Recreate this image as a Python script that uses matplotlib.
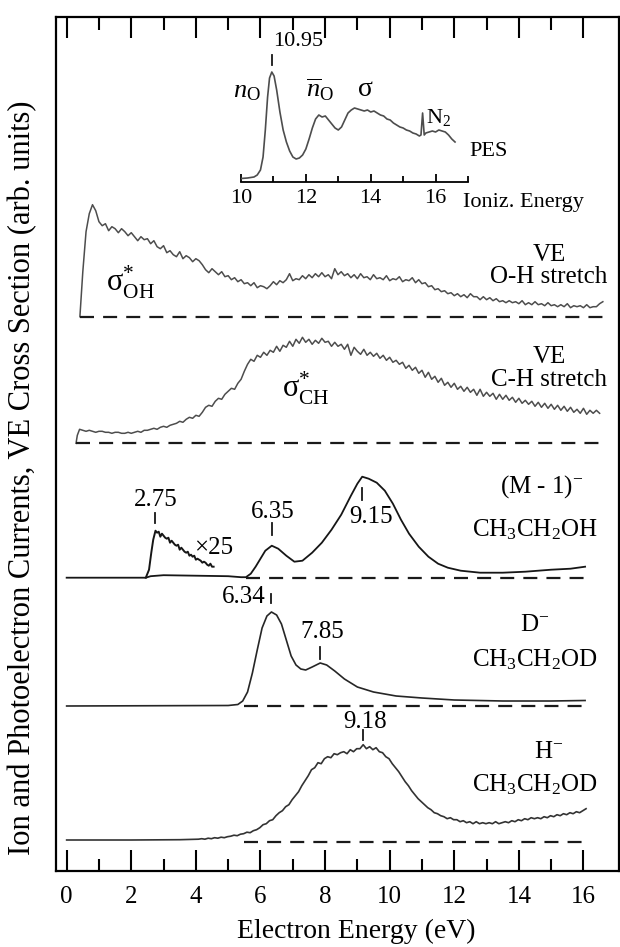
import matplotlib.pyplot as plt
import numpy as np

plt.rcParams['font.family'] = ['Liberation Serif', 'DejaVu Serif']
plt.rcParams['mathtext.fontset'] = 'custom'
plt.rcParams['mathtext.rm'] = 'Liberation Serif'
plt.rcParams['mathtext.it'] = 'Liberation Serif:italic'
plt.rcParams['mathtext.bf'] = 'Liberation Serif:bold'

# ---------------- data (arb. units, height above each trace's zero line) ----------------

# VE cross section, O-H stretch
oh_rise_e = [0.41, 0.45, 0.5, 0.6, 0.7, 0.8]
oh_rise_v = [0, 20, 45, 85, 103, 112]
oh_v = [106, 95, 91, 93, 86, 90, 88, 84, 88, 85,
        81, 84, 80, 76, 80, 77, 78, 73, 76, 70,
        68, 71, 64, 66, 62, 60, 65, 58, 61, 59,
        55, 58, 56, 52, 47, 44, 48, 45, 42, 45,
        40, 41, 37, 39, 35, 37, 33, 34, 31, 34,
        29, 31, 30, 28, 31, 35, 32, 36, 34, 37,
        43, 36, 38, 37, 41, 38, 42, 39, 43, 40,
        44, 40, 42, 38, 48, 42, 45, 41, 43, 39,
        42, 38, 43, 39, 40, 37, 42, 38, 39, 37,
        41, 36, 38, 37, 40, 35, 37, 36, 39, 34,
        37, 33, 34, 30, 31, 27, 28, 25, 26, 23,
        24, 21, 23, 20, 22, 19, 23, 20, 20, 17,
        20, 17, 19, 16, 18, 15, 16, 14, 16, 14,
        15, 13, 16, 12, 14, 12, 15, 12, 13, 11,
        14, 11, 12, 10, 12, 10, 13, 9, 11, 10,
        11, 9, 12, 9, 10, 10, 13, 15]
oh_e = np.linspace(0.9, 16.6, len(oh_v))

# VE cross section, C-H stretch
ch_rise_e = [0.29, 0.33]
ch_rise_v = [0, 8]
ch_v = [14, 13, 12, 13, 12, 11, 12, 12, 11, 11,
        10, 11, 11, 10, 10, 11, 10, 11, 12, 11,
        13, 13, 14, 15, 14, 16, 17, 16, 18, 19,
        20, 22, 21, 24, 26, 25, 28, 27, 31, 36,
        38, 37, 42, 45, 44, 49, 52, 55, 54, 60,
        64, 72, 79, 84, 82, 88, 86, 91, 88, 93,
        91, 97, 92, 98, 96, 102, 97, 104, 100, 106,
        101, 104, 99, 103, 100, 105, 101, 102, 97, 101,
        97, 99, 94, 99, 88, 96, 92, 89, 94, 88,
        91, 87, 90, 85, 88, 83, 86, 81, 83, 79,
        81, 75, 78, 73, 76, 70, 73, 66, 71, 64,
        67, 61, 65, 58, 61, 56, 60, 54, 57, 52,
        56, 51, 54, 48, 54, 47, 51, 47, 50, 44,
        49, 44, 48, 43, 46, 41, 45, 40, 43, 39,
        42, 37, 41, 36, 40, 35, 39, 34, 38, 33,
        37, 32, 36, 31, 34, 30, 35, 29, 33, 30,
        33, 30]
ch_e = np.linspace(0.4, 16.5, len(ch_v))

# (M-1)- from CH3CH2OH
m1_e = [0.0, 2.45, 2.6, 3.0, 4.0, 5.0, 5.4, 5.55, 5.7, 5.85, 6.0, 6.15, 6.35, 6.55,
        6.8, 7.05, 7.3, 7.6, 7.9, 8.2, 8.5, 8.8, 9.0, 9.15, 9.35, 9.6, 9.85, 10.1,
        10.35, 10.6, 10.9, 11.2, 11.5, 11.8, 12.2, 12.8, 13.5, 14.2, 15.0, 15.6, 16.05]
m1_v = [0, 0, 1.5, 2.5, 2, 1.5, 0.5, 0.5, 4, 11, 19, 27, 32, 29,
        22, 16, 17, 25, 35, 48, 63, 82, 94, 101, 99, 95, 87, 74,
        58, 44, 31, 21, 14, 10, 7, 5, 5, 6, 8, 9, 11]
# x25 magnified low-energy part
x25_rise_e = [2.45, 2.55, 2.62, 2.68]
x25_rise_v = [0, 8, 25, 38]
x25_v = [47, 45, 46, 41, 44, 42, 40, 39, 40, 35,
         37, 35, 33, 32, 33, 28, 30, 28, 26, 25,
         26, 22, 23, 21, 22, 18, 19, 18, 17, 15,
         16, 15, 13, 12, 14, 11, 11]
x25_e = np.linspace(2.75, 4.55, len(x25_v))

# D- from CH3CH2OD
d_e = [0.0, 5.0, 5.3, 5.45, 5.6, 5.75, 5.9, 6.05, 6.2, 6.34, 6.5, 6.65, 6.8, 6.95,
       7.1, 7.25, 7.4, 7.6, 7.85, 8.05, 8.3, 8.6, 9.0, 9.5, 10.2, 11.0, 12.0, 13.5,
       15.0, 16.05]
d_v = [0, 0.5, 1.5, 5, 14, 33, 56, 78, 90, 94, 91, 82, 66, 50,
       41, 37, 36, 39, 43, 41, 35, 27, 19, 14, 10, 8, 6, 5,
       5, 5.5]

# H- from CH3CH2OD
h_low_e = [0.0, 2.0, 3.5]
h_low_v = [1.7, 1.7, 2.0]
h_v = [2.5, 3, 2.5, 3.5, 3, 4, 3.5, 4.5, 4, 5,
       5.5, 6.5, 6, 7.5, 8, 9.5, 9, 11, 12, 14,
       17, 18, 21, 22, 26, 29, 31, 35, 37, 42,
       46, 50, 56, 61, 66, 72, 74, 79, 78, 83,
       85, 84, 88, 87, 89, 90, 88, 92, 90, 93,
       93, 97, 93, 95, 92, 94, 90, 89, 85, 83,
       78, 74, 70, 65, 60, 56, 51, 47, 43, 40,
       37, 34, 32, 29, 28, 26, 25, 23, 24, 22,
       22, 20, 21, 19, 20, 18, 20, 18, 19, 18,
       19, 18, 20, 18, 19, 20, 19, 21, 20, 22,
       21, 23, 22, 24, 23, 24, 23, 25, 24, 26,
       25, 27, 26, 28, 27, 29, 28, 30, 29, 31,
       33]
h_e = np.linspace(4.08, 16.08, len(h_v))

# photoelectron spectrum (inset), ionization energy in eV
pes_e = [10.0, 10.2, 10.4, 10.5, 10.6, 10.68, 10.75, 10.82, 10.88, 10.95,
         11.02, 11.1, 11.2, 11.3, 11.4, 11.5, 11.6, 11.7, 11.8, 11.9,
         12.0, 12.1, 12.2, 12.3, 12.4, 12.5, 12.6, 12.7, 12.8, 12.9,
         13.0, 13.1, 13.2, 13.3, 13.4, 13.5, 13.6, 13.7, 13.8, 13.9,
         14.0, 14.1, 14.2, 14.3, 14.4, 14.5, 14.6, 14.7, 14.8, 14.9,
         15.0, 15.1, 15.2, 15.3, 15.4, 15.5, 15.55, 15.6, 15.65, 15.7, 15.8, 15.9,
         16.0, 16.1, 16.2, 16.3, 16.4, 16.5, 16.6]
pes_v = [3.5, 4, 5, 7, 12, 25, 52, 85, 104, 110,
         106, 92, 70, 52, 40, 31, 25, 23, 24, 27,
         33, 43, 54, 63, 67, 65, 66, 62, 58, 54,
         52, 55, 62, 69, 72, 74, 73, 72, 71, 72,
         70, 71, 69, 67, 66, 63, 62, 59, 57, 55,
         54, 52, 51, 49, 48, 46, 47, 69, 47, 49, 50, 51,
         50, 52, 51, 50, 47, 43, 40]

# ---------------- figure ----------------
W, H = 620, 947
fig = plt.figure(figsize=(W / 100, H / 100), dpi=100)
ax = fig.add_axes([56 / W, 1 - 871 / H, 563 / W, 854 / H])
ax.set_xlim(-0.33, 17.1)
ax.set_ylim(0, 854)

# vertical offsets of the stacked curves
base_oh, base_ch, base_m1, base_d, base_h = 554.3, 427.7, 293.3, 165.0, 29.3

grey = '#4d4d4d'
dark = '#161616'


def zero_line(x0, x1, base):
    ax.plot([x0, x1], [base, base], color='#1a1a1a', lw=1.6,
            dashes=(6.3, 4.1), solid_capstyle='butt', dash_capstyle='butt')


def peak_tick(x, y0, y1):
    ax.plot([x, x], [y0, y1], color=dark, lw=1.3)


# O-H stretch
ax.plot(np.concatenate([oh_rise_e, oh_e]),
        np.concatenate([oh_rise_v, oh_v]) + base_oh, color=grey, lw=1.1)
zero_line(0.41, 16.6, base_oh)

# C-H stretch
ax.plot(np.concatenate([ch_rise_e, ch_e]),
        np.concatenate([ch_rise_v, ch_v]) + base_ch, color=grey, lw=1.1)
zero_line(0.29, 16.5, base_ch)

# (M-1)-
ax.plot(m1_e, np.array(m1_v) + base_m1, color=dark, lw=1.3)
ax.plot(np.concatenate([x25_rise_e, x25_e]),
        np.concatenate([x25_rise_v, x25_v]) + base_m1, color=dark, lw=1.4)
zero_line(5.55, 16.05, base_m1)

# D-
ax.plot(d_e, np.array(d_v) + base_d, color='#262626', lw=1.2)
zero_line(5.5, 16.05, base_d)

# H-
ax.plot(np.concatenate([h_low_e, h_e]),
        np.concatenate([h_low_v, h_v]) + base_h, color='#333333', lw=1.2)
zero_line(5.5, 16.05, base_h)

# labels
fs = 18
ax.text(1.99, 589, r'$\mathrm{\sigma}^{*}_{\mathrm{OH}}$', fontsize=22, ha='center', va='center')
ax.text(14.93, 616, 'VE', fontsize=fs, ha='center', va='center')
ax.text(14.93, 594, 'O-H stretch', fontsize=fs, ha='center', va='center')
ax.text(7.41, 483, r'$\mathrm{\sigma}^{*}_{\mathrm{CH}}$', fontsize=22, ha='center', va='center')
ax.text(14.93, 514, 'VE', fontsize=fs, ha='center', va='center')
ax.text(14.93, 491, 'C-H stretch', fontsize=fs, ha='center', va='center')

ax.text(2.76, 371, '2.75', fontsize=fs, ha='center', va='center')
peak_tick(2.75, 348, 358)
ax.text(4.55, 323, '×25', fontsize=fs, ha='center', va='center')
ax.text(6.37, 359, '6.35', fontsize=fs, ha='center', va='center')
peak_tick(6.35, 336, 348)
ax.text(9.41, 354, '9.15', fontsize=fs, ha='center', va='center')
peak_tick(9.15, 371, 383)
ax.text(14.72, 384, r'(M - 1)$^{-}$', fontsize=fs, ha='center', va='center')
ax.text(14.5, 341, r'CH$_3$CH$_2$OH', fontsize=fs, ha='center', va='center')

ax.text(5.49, 274, '6.34', fontsize=fs, ha='center', va='center')
peak_tick(6.34, 268, 277)
ax.text(7.92, 239, '7.85', fontsize=fs, ha='center', va='center')
peak_tick(7.85, 212, 224)
ax.text(14.5, 246, r'D$^{-}$', fontsize=fs, ha='center', va='center')
ax.text(14.5, 211, r'CH$_3$CH$_2$OD', fontsize=fs, ha='center', va='center')

ax.text(9.24, 149, '9.18', fontsize=fs, ha='center', va='center')
peak_tick(9.18, 131, 141)
ax.text(14.93, 119, r'H$^{-}$', fontsize=fs, ha='center', va='center')
ax.text(14.5, 86, r'CH$_3$CH$_2$OD', fontsize=fs, ha='center', va='center')

# axes styling
for s in ax.spines.values():
    s.set_linewidth(1.6)
ax.set_xticks(np.arange(0, 17, 2))
ax.set_xticks(np.arange(1, 17, 2), minor=True)
ax.set_yticks([])
ax.tick_params(axis='x', which='both', direction='in', top=True, bottom=True,
               width=1.5, labelsize=18, pad=11)
ax.tick_params(axis='x', which='major', length=15)
ax.tick_params(axis='x', which='minor', length=9)
ax.set_xlabel('Electron Energy (eV)', fontsize=20)
ax.xaxis.set_label_coords(0.533, -0.056)
ax.set_ylabel('Ion and Photoelectron Currents, VE Cross Section (arb. units)', fontsize=22)
ax.yaxis.set_label_coords(-0.034, 0.461)

# ---------------- inset: photoelectron spectrum ----------------
ai = fig.add_axes([241 / W, 1 - 182 / H, 227 / W, 142 / H])
ai.set_facecolor('none')
ai.set_xlim(10, 17)
ai.set_ylim(0, 142)
for k in ('left', 'right', 'top'):
    ai.spines[k].set_visible(False)
ai.spines['bottom'].set_linewidth(1.3)
ai.set_yticks([])
ai.set_xticks([10, 12, 14, 16])
ai.set_xticks([11, 13, 15, 17], minor=True)
ai.tick_params(axis='x', which='both', direction='in', width=1.3, labelsize=16, pad=5)
ai.tick_params(axis='x', which='major', length=6)
ai.tick_params(axis='x', which='minor', length=4)

ai.plot(pes_e, pes_v, color=grey, lw=1.2)
ai.plot([10.95, 10.95], [117, 127], color=dark, lw=1.3)
ai.text(10.98, 140, '10.95', fontsize=16, ha='left', va='center', clip_on=False)
ai.text(10.18, 90, r'$n_{\mathrm{O}}$', fontsize=19, ha='center', va='center')
ai.text(12.44, 92, r'$\overline{n}_{\mathrm{O}}$', fontsize=19, ha='center', va='center')
ai.text(13.83, 92, r'$\mathrm{\sigma}$', fontsize=20, ha='center', va='center')
ai.text(16.08, 64, r'N$_2$', fontsize=16, ha='center', va='center')
ai.text(17.62, 30, 'PES', fontsize=16, ha='center', va='center', clip_on=False)
ai.text(18.7, -21, 'Ioniz. Energy', fontsize=16, ha='center', va='center', clip_on=False)

fig.savefig('out.png', dpi=100)
